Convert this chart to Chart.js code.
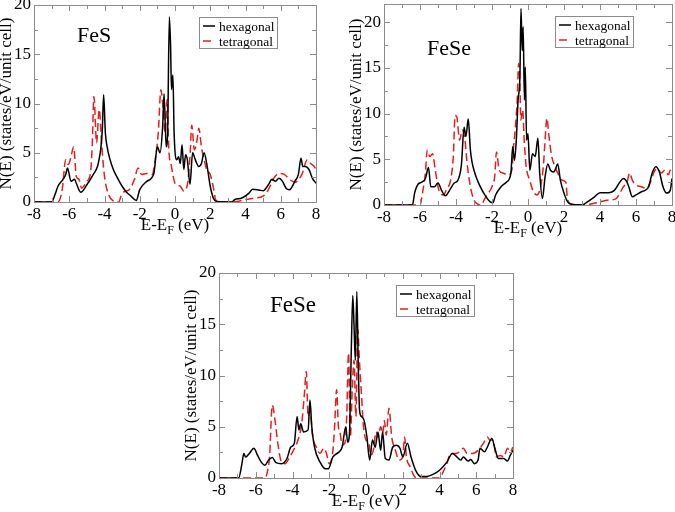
<!DOCTYPE html>
<html>
<head>
<meta charset="utf-8">
<script src="https://cdn.jsdelivr.net/npm/chart.js@4"></script>
<style>
  html, body { margin: 0; padding: 0; background: #fff; }
  body { width: 675px; height: 512px; position: relative; overflow: hidden; }
  canvas { position: absolute; }
</style>
</head>
<body>
<canvas id="c1"></canvas>
<canvas id="c2"></canvas>
<canvas id="c3"></canvas>
<script>
// DOS curves, [E - EF (eV), N(E)]
const fesHex = [[-8,0],[-7.0,0],[-6.8,0.8],[-6.64,1.6],[-6.35,2.3],[-6.2,2.8],[-6.1,3.45],[-5.9,2.1],[-5.7,2.3],[-5.6,1.9],
  [-5.35,1.0],[-5.0,1.75],[-4.6,2.9],[-4.4,3.6],[-4.3,4.4],[-4.2,5.6],[-4.12,7.5],[-4.05,10.9],[-3.95,7.0],[-3.85,5.6],
  [-3.7,4.4],[-3.5,3.3],[-3.25,2.4],[-3.0,1.6],[-2.75,1.0],[-2.5,0.6],[-2.2,0.15],[-2.0,1.25],[-1.6,2.1],[-1.2,2.9],
  [-1.0,5.6],[-0.85,5.0],[-0.7,7.7],[-0.62,11.0],[-0.5,5.6],[-0.42,7.0],[-0.32,18.8],[-0.25,15.8],[-0.2,11.4],[-0.12,12.9],
  [-0.05,7.0],[0.1,4.3],[0.2,4.6],[0.3,3.9],[0.4,5.8],[0.5,3.3],[0.6,4.8],[0.7,4.3],[0.85,1.8],[1.0,5.0],
  [1.15,4.3],[1.35,3.6],[1.5,3.9],[1.65,5.0],[1.8,3.9],[2.0,1.6],[2.2,0.3],[2.4,0.05],[3.2,0],[3.4,0.25],
  [3.8,0.4],[4.2,0.9],[4.4,1.3],[4.8,1.2],[5.0,1.15],[5.3,1.75],[5.5,2.3],[5.7,2.1],[5.9,2.4],[6.1,2.1],
  [6.3,1.4],[6.5,1.25],[6.8,2.1],[7.0,2.8],[7.15,4.45],[7.25,3.6],[7.4,3.6],[7.6,3.3],[7.8,2.4],[8.0,1.9]];
const fesTet = [[-8,0],[-6.65,0],[-6.4,1.25],[-6.2,4.3],[-6.05,3.8],[-5.9,4.6],[-5.75,5.6],[-5.6,2.6],[-5.45,2.3],[-5.3,1.4],
  [-5.0,2.1],[-4.8,2.9],[-4.7,5.6],[-4.6,10.7],[-4.45,6.0],[-4.3,9.4],[-4.15,5.6],[-4.0,2.6],[-3.8,0.9],[-3.5,0.1],
  [-3.2,0],[-3.0,0.9],[-2.6,1.25],[-2.3,2.3],[-2.1,3.45],[-1.9,2.8],[-1.6,2.9],[-1.3,2.8],[-1.1,4.6],[-0.95,7.0],
  [-0.8,11.4],[-0.7,10.0],[-0.55,7.0],[-0.45,10.4],[-0.35,5.3],[-0.2,3.6],[0,1.9],[0.3,1.6],[0.5,1.1],[0.7,1.75],
  [0.85,4.6],[0.95,7.8],[1.1,5.3],[1.25,6.3],[1.35,7.5],[1.5,5.6],[1.65,4.3],[1.8,3.3],[2.0,2.8],[2.2,1.25],
  [2.3,0.25],[2.5,0],[3.5,0.05],[4.0,0.25],[4.5,0.4],[5.0,0.6],[5.3,1.25],[5.6,2.4],[5.9,2.9],[6.2,2.8],
  [6.5,2.3],[6.8,2.0],[7.2,2.8],[7.5,4.3],[7.7,3.9],[7.9,3.6],[8,3.3]];

const feseHex = [[-8,0],[-6.42,0],[-6.3,1.3],[-6.1,2.3],[-5.9,2.5],[-5.7,2.9],[-5.53,4.1],[-5.4,2.0],[-5.2,2.0],[-5.0,2.4],
  [-4.8,1.6],[-4.6,1.0],[-4.3,1.8],[-4.1,2.4],[-3.9,2.7],[-3.7,4.4],[-3.55,8.5],[-3.45,7.5],[-3.32,9.4],[-3.2,6.0],
  [-3.1,4.6],[-3.0,3.8],[-2.85,2.9],[-2.7,2.2],[-2.4,1.1],[-2.1,0.35],[-1.95,0.25],[-1.8,1.1],[-1.5,2.0],[-1.2,2.5],
  [-0.95,3.5],[-0.85,6.4],[-0.75,4.9],[-0.65,7.1],[-0.55,11.5],[-0.45,14.0],[-0.39,21.5],[-0.32,16.9],[-0.27,19.5],[-0.2,11.5],
  [-0.15,15.1],[-0.08,7.1],[0,7.8],[0.1,3.8],[0.25,5.6],[0.4,5.3],[0.55,7.3],[0.65,3.5],[0.8,0.7],[0.95,3.1],
  [1.1,4.5],[1.25,3.8],[1.4,3.6],[1.5,3.8],[1.65,4.5],[1.8,2.7],[2.0,1.3],[2.2,0.35],[2.5,0.05],[3.0,0],
  [3.3,0.35],[3.7,0.9],[4.0,1.35],[4.5,1.35],[4.8,1.6],[5.1,2.5],[5.3,2.9],[5.5,2.5],[5.6,2.0],[5.8,0.9],
  [6.0,1.1],[6.3,1.45],[6.5,1.6],[6.7,2.0],[6.9,3.5],[7.1,4.2],[7.3,3.6],[7.5,2.0],[7.7,1.3],[7.9,1.6],[8.0,2.9]];
const feseTet = [[-8,0],[-6.0,0],[-5.85,1.45],[-5.7,3.5],[-5.6,6.0],[-5.45,5.3],[-5.3,5.6],[-5.15,3.8],[-4.95,1.6],[-4.7,1.1],
  [-4.5,1.8],[-4.3,2.7],[-4.15,5.3],[-4.05,9.8],[-3.95,9.6],[-3.8,7.1],[-3.65,8.2],[-3.5,7.1],[-3.4,4.9],[-3.2,2.0],
  [-3.0,0.55],[-2.8,0.1],[-2.6,0],[-2.4,0.7],[-2.2,1.3],[-2.0,2.0],[-1.85,3.1],[-1.75,5.8],[-1.6,3.8],[-1.4,3.5],
  [-1.1,3.3],[-0.9,3.8],[-0.8,6.4],[-0.7,8.5],[-0.6,11.5],[-0.52,15.5],[-0.45,13.3],[-0.4,9.3],[-0.3,10.4],[-0.2,6.7],
  [-0.1,4.2],[0.1,2.7],[0.3,1.45],[0.5,1.1],[0.7,2.0],[0.85,4.2],[0.95,7.1],[1.05,9.5],[1.15,7.8],[1.3,5.5],
  [1.5,4.2],[1.7,3.3],[1.9,2.7],[2.1,2.5],[2.2,0.55],[2.4,0.1],[3.0,0],[3.5,0.1],[4.0,0.35],[4.5,0.55],
  [4.9,0.7],[5.1,1.3],[5.3,2.0],[5.5,2.5],[5.65,3.5],[5.8,2.7],[6.0,2.2],[6.3,2.0],[6.6,1.8],[6.8,2.5],
  [7.0,3.6],[7.2,4.0],[7.4,3.5],[7.6,3.8],[7.8,3.3],[7.9,3.8],[8,3.5]];

const fese2Hex = [[-8,0],[-6.93,0],[-6.75,1.4],[-6.65,2.4],[-6.55,2.05],[-6.35,2.4],[-6.1,2.9],[-5.9,2.2],[-5.7,1.55],[-5.5,1.25],
  [-5.3,1.75],[-5.1,2.0],[-4.9,1.5],[-4.6,1.4],[-4.3,1.9],[-4.1,3.0],[-3.9,3.4],[-3.75,6.0],[-3.65,4.7],[-3.55,5.3],
  [-3.4,4.5],[-3.15,4.7],[-3.05,7.6],[-2.95,5.0],[-2.8,3.0],[-2.5,1.55],[-2.2,0.9],[-2.05,0.9],[-1.8,2.05],[-1.5,2.5],
  [-1.3,3.0],[-1.1,5.0],[-1.0,3.5],[-0.9,4.3],[-0.8,12.5],[-0.72,17.8],[-0.65,14.8],[-0.58,11.5],[-0.5,18.2],[-0.42,10.9],
  [-0.35,6.6],[-0.25,6.0],[-0.1,5.6],[0.05,4.0],[0.2,1.75],[0.35,3.7],[0.5,3.0],[0.65,4.5],[0.8,2.7],[0.9,4.5],
  [1.05,1.9],[1.25,1.75],[1.45,3.0],[1.65,3.2],[1.85,2.9],[2.0,2.05],[2.25,3.4],[2.45,2.05],[2.7,0.75],[3.0,0.15],
  [3.3,0.15],[3.7,0.4],[4.0,0.75],[4.4,1.55],[4.7,2.4],[4.95,2.05],[5.15,1.75],[5.3,2.05],[5.55,1.65],[5.7,1.8],
  [5.9,1.4],[6.1,1.75],[6.2,2.9],[6.45,2.55],[6.6,3.0],[6.85,3.85],[7.0,3.0],[7.2,1.9],[7.5,1.9],[7.7,1.65],
  [7.85,2.2],[8,2.7]];
const fese2Tet = [[-8,0],[-5.5,0],[-5.35,0.75],[-5.25,2.05],[-5.1,7.1],[-4.95,5.6],[-4.8,3.4],[-4.6,1.55],[-4.4,1.4],[-4.2,1.9],
  [-3.95,2.7],[-3.7,3.7],[-3.5,5.3],[-3.35,8.25],[-3.25,10.4],[-3.15,6.0],[-3.05,6.6],[-2.9,4.0],[-2.7,3.0],[-2.5,2.4],
  [-2.3,2.9],[-2.15,2.4],[-2.0,1.4],[-1.8,2.7],[-1.7,5.3],[-1.6,8.6],[-1.5,5.0],[-1.4,4.3],[-1.3,3.2],[-1.15,3.4],
  [-1.05,6.0],[-0.95,12.2],[-0.85,4.0],[-0.75,8.6],[-0.65,11.5],[-0.55,6.0],[-0.45,14.5],[-0.35,11.2],[-0.25,8.25],[-0.15,5.3],
  [0,3.7],[0.15,3.5],[0.25,2.2],[0.4,2.7],[0.55,4.5],[0.65,4.0],[0.8,5.0],[0.9,4.3],[1.0,5.6],[1.1,4.2],
  [1.25,6.8],[1.4,4.0],[1.6,2.7],[1.8,1.75],[2.0,2.05],[2.1,4.0],[2.2,2.05],[2.4,1.1],[2.6,0.25],[2.8,0],
  [4.0,0],[4.2,0.6],[4.4,1.4],[4.6,2.4],[4.9,2.4],[5.1,2.55],[5.3,2.9],[5.5,2.4],[5.8,2.4],[6.1,2.7],
  [6.4,3.4],[6.6,4.0],[6.75,3.7],[6.9,3.7],[7.1,2.05],[7.3,2.2],[7.5,2.05],[7.7,2.9],[7.85,2.55],[8,3.0]];

const seriesNames = ["hexagonal", "tetragonal"];
const xRange = [-8, 8];
const yTitle = "N(E) (states/eV/unit cell)";

const SERIF = "'Liberation Serif', 'DejaVu Serif', serif";
const RED = "#e31f1f";

// frame with inward ticks, panel label, legend and axis titles
const framePlugin = {
  id: "frame",
  afterDatasetsDraw(chart, args, opts) {
    const { ctx, chartArea: a, scales: { x, y } } = chart;
    ctx.save();
    ctx.strokeStyle = "#8c8c8c";
    ctx.lineWidth = 1;
    ctx.strokeRect(a.left + 0.5, a.top + 0.5, a.right - a.left, a.bottom - a.top);

    ctx.beginPath();
    for (let v = x.min; v <= x.max; v += 1) {
      const px = Math.round(x.getPixelForValue(v)) + 0.5;
      const len = v % 2 === 0 ? 6 : 4;
      ctx.moveTo(px, a.bottom); ctx.lineTo(px, a.bottom - len);
      ctx.moveTo(px, a.top); ctx.lineTo(px, a.top + len);
    }
    for (let v = 0; v <= y.max; v += 2.5) {
      const py = Math.round(y.getPixelForValue(v)) + 0.5;
      const len = v % 5 === 0 ? 6 : 4;
      ctx.moveTo(a.left, py); ctx.lineTo(a.left + len, py);
      ctx.moveTo(a.right, py); ctx.lineTo(a.right - len, py);
    }
    ctx.stroke();

    // panel label
    ctx.fillStyle = "#000";
    ctx.font = opts.labelSize + "px " + SERIF;
    ctx.textAlign = "left";
    ctx.textBaseline = "alphabetic";
    ctx.fillText(opts.label, a.left + opts.labelX, a.top + opts.labelY);

    // legend, sized to its text, right edge 39px inside the frame
    ctx.font = "13.5px " + SERIF;
    const textW = Math.max(...chart.data.datasets.map(ds => ctx.measureText(ds.label).width));
    const lw = Math.round(textW) + 23, lh = 31;
    const lx = a.right - 39 - lw, ly = a.top + 12;
    ctx.fillStyle = "#fff";
    ctx.fillRect(lx, ly, lw, lh);
    ctx.strokeStyle = "#8c8c8c";
    ctx.strokeRect(lx + 0.5, ly + 0.5, lw, lh);
    ctx.textBaseline = "middle";
    chart.data.datasets.forEach((ds, i) => {
      const yy = ly + 9 + i * 15;
      ctx.strokeStyle = ds.borderColor;
      ctx.lineWidth = 1.5;
      ctx.setLineDash(ds.borderDash || []);
      ctx.beginPath();
      ctx.moveTo(lx + 4, yy); ctx.lineTo(lx + 16, yy);
      ctx.stroke();
      ctx.setLineDash([]);
      ctx.fillStyle = "#000";
      ctx.fillText(ds.label, lx + 20, yy + 1);
    });

    // y title
    ctx.save();
    ctx.translate(a.left - 27, (a.top + a.bottom) / 2);
    ctx.rotate(-Math.PI / 2);
    ctx.font = "17px " + SERIF;
    ctx.textAlign = "center";
    ctx.textBaseline = "middle";
    ctx.fillText(yTitle, 0, 0);
    ctx.restore();

    // x title E-E_F (eV)
    ctx.textBaseline = "alphabetic";
    const p1 = "E-E", p3 = " (eV)";
    ctx.font = "17px " + SERIF;
    const w1 = ctx.measureText(p1).width, w3 = ctx.measureText(p3).width;
    ctx.font = "12px " + SERIF;
    const w2 = ctx.measureText("F").width;
    const tx = (a.left + a.right) / 2 - (w1 + w2 + w3) / 2;
    const ty = a.bottom + 28;
    ctx.textAlign = "left";
    ctx.font = "17px " + SERIF;
    ctx.fillText(p1, tx, ty);
    ctx.font = "12px " + SERIF;
    ctx.fillText("F", tx + w1, ty + 4);
    ctx.font = "17px " + SERIF;
    ctx.fillText(p3, tx + w1 + w2, ty);
    ctx.restore();
  }
};

function makeChart(id, box, yMax, hex, tet, label) {
  const canvas = document.getElementById(id);
  canvas.width = box.right - box.left + 55;
  canvas.height = box.bottom - box.top + 55;
  canvas.style.left = (box.left - 40) + "px";
  canvas.style.top = (box.top - 15) + "px";
  const tickFont = { family: SERIF, size: 17 };
  return new Chart(canvas, {
    type: "line",
    data: {
      datasets: [
        { label: seriesNames[0], data: hex.map(p => ({ x: p[0], y: p[1] })),
          borderColor: "#000", borderWidth: 1.5, pointRadius: 0, cubicInterpolationMode: "monotone" },
        { label: seriesNames[1], data: tet.map(p => ({ x: p[0], y: p[1] })),
          borderColor: RED, borderWidth: 1.5, borderDash: [8, 4], pointRadius: 0, cubicInterpolationMode: "monotone" }
      ]
    },
    options: {
      responsive: false,
      animation: false,
      devicePixelRatio: 1,
      layout: { padding: { left: 10, top: 15, right: 15, bottom: 0 } },
      plugins: {
        legend: { display: false },
        tooltip: { enabled: false },
        frame: label
      },
      scales: {
        x: {
          type: "linear", min: xRange[0], max: xRange[1],
          grid: { display: false, drawTicks: false },
          border: { display: false },
          ticks: { stepSize: 2, padding: 2, font: tickFont, color: "#000", maxRotation: 0 },
          afterFit: s => { s.height = 40; }
        },
        y: {
          type: "linear", min: 0, max: yMax,
          grid: { display: false, drawTicks: false },
          border: { display: false },
          ticks: { stepSize: 5, padding: 3, font: tickFont, color: "#000", includeBounds: false },
          afterFit: s => { s.width = 30; }
        }
      }
    },
    plugins: [framePlugin]
  });
}

makeChart("c1", { left: 34, right: 316, top: 5, bottom: 202 }, 20, fesHex, fesTet,
  { label: "FeS", labelX: 43, labelY: 37, labelSize: 22 });
makeChart("c2", { left: 384, right: 672, top: 4, bottom: 205 }, 22, feseHex, feseTet,
  { label: "FeSe", labelX: 43, labelY: 51, labelSize: 22 });
makeChart("c3", { left: 219, right: 513, top: 273, bottom: 478 }, 20, fese2Hex, fese2Tet,
  { label: "FeSe", labelX: 51, labelY: 39, labelSize: 23 });
</script>
</body>
</html>
